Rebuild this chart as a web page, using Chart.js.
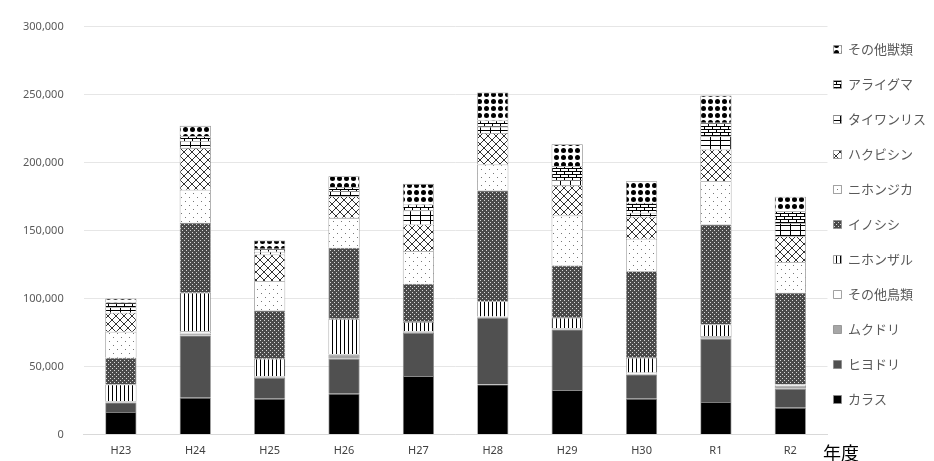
<!DOCTYPE html>
<html>
<head>
<meta charset="utf-8">
<script src="https://cdn.jsdelivr.net/npm/chart.js@4/dist/chart.umd.min.js"></script>
<style>
  body { margin: 0; background: #fff; }
  #wrap { position: relative; width: 934px; height: 461px; }
</style>
</head>
<body>
<div id="wrap"><canvas id="barChart" width="934" height="461"></canvas></div>
<script>
// data
const years = ['H23', 'H24', 'H25', 'H26', 'H27', 'H28', 'H29', 'H30', 'R1', 'R2'];
const karasu      = [16500, 27000, 26200, 29900, 42900, 36800, 32600, 26200, 23800, 19600];
const hiyodori    = [7000, 45800, 15500, 25800, 31900, 49000, 44600, 17900, 46600, 14000];
const mukudori    = [500, 1500, 500, 3000, 500, 500, 500, 500, 1000, 2200];
const sonotaChorui = [500, 1500, 500, 500, 500, 500, 500, 1000, 1000, 700];
const nihonzaru   = [12300, 28400, 13000, 25800, 7000, 11200, 7600, 10800, 8500, 300];
const inoshishi   = [19600, 51500, 35500, 52300, 28000, 81400, 38500, 63700, 73500, 67400];
const nihonjika   = [19100, 24300, 21500, 22000, 24000, 19100, 36700, 23800, 31900, 22500];
const hakubishin  = [14000, 30800, 19700, 15900, 19600, 23300, 22100, 16200, 23300, 19100];
const taiwanrisu  = [4000, 5000, 2000, 3800, 10300, 4500, 4000, 3000, 9700, 9800];
const araiguma    = [3500, 3500, 2100, 3000, 4400, 4600, 10200, 7300, 9900, 8600];
const sonotaJurui = [3000, 7700, 6100, 8000, 15200, 20600, 16200, 15900, 20100, 10600];

const yTicks = [0, 50000, 100000, 150000, 200000, 250000, 300000];

function makePattern(kind) {
    let c = document.createElement('canvas');
    let g = c.getContext('2d');
    let w = 8, h = 8;
    if (kind == 'vlines') { w = 4; h = 4; }
    if (kind == 'checker') { w = 4; h = 4; }
    if (kind == 'grid') { w = 10; h = 10; }
    if (kind == 'brick') { w = 8; h = 6; }
    if (kind == 'blob') { w = 7; h = 7; }
    c.width = w; c.height = h;
    g.fillStyle = '#fff';
    g.fillRect(0, 0, w, h);
    g.fillStyle = '#000';
    g.strokeStyle = '#000';
    g.lineWidth = 1;
    if (kind == 'vlines') {
        g.fillRect(0, 0, 1, h);
    } else if (kind == 'checker') {
        g.fillStyle = '#4a4a4a';
        g.fillRect(0, 0, w, h);
        g.fillStyle = '#d8d8d8';
        g.fillRect(0, 0, 1, 1);
        g.fillRect(2, 2, 1, 1);
    } else if (kind == 'dots') {
        g.fillStyle = '#777';
        g.fillRect(1, 1, 1, 1);
        g.fillRect(5, 5, 1, 1);
    } else if (kind == 'diamond') {
        g.strokeStyle = '#333';
        g.beginPath();
        g.moveTo(0, 0); g.lineTo(8, 8);
        g.moveTo(8, 0); g.lineTo(0, 8);
        g.stroke();
    } else if (kind == 'grid') {
        g.fillRect(0, 0, w, 1);
        g.fillRect(0, 5, w, 1);
        g.fillRect(0, 0, 1, h);
    } else if (kind == 'brick') {
        g.fillRect(0, 0, w, 1);
        g.fillRect(0, 3, w, 1);
        g.fillRect(0, 0, 1, 3);
        g.fillRect(4, 3, 1, 3);
    } else if (kind == 'blob') {
        g.beginPath();
        g.arc(3.5, 3.5, 2.5, 0, Math.PI * 2);
        g.fill();
    }
    return g.createPattern(c, 'repeat');
}

function ds(label, data, fill) {
    return {
        label: label,
        data: data,
        backgroundColor: fill,
        borderColor: '#8a8a8a',
        borderWidth: 0.8,
        barPercentage: 0.42,
        categoryPercentage: 1.0
    };
}

// draws the "年度" label at the bottom right
const nendoLabel = {
    id: 'nendoLabel',
    afterDraw(chart) {
        let ctx = chart.ctx;
        ctx.save();
        ctx.font = '18px "Noto Sans CJK JP"';
        ctx.fillStyle = '#000';
        ctx.textBaseline = 'top';
        ctx.fillText('年度', 823, 444);
        ctx.restore();
    }
};

// pull the legend a bit closer to the bars than its padding allows
const legendShift = {
    id: 'legendShift',
    afterLayout(chart) {
        chart.legend.left -= 16;
        chart.legend.top -= 4;
    }
};

Chart.defaults.font.family = '"Noto Sans", "Noto Sans CJK JP", sans-serif';

var barChart = new Chart(document.getElementById('barChart'), {
    type: 'bar',
    data: {
        labels: years,
        datasets: [
            ds('カラス', karasu, '#000000'),
            ds('ヒヨドリ', hiyodori, '#505050'),
            ds('ムクドリ', mukudori, '#a6a6a6'),
            ds('その他鳥類', sonotaChorui, '#ffffff'),
            ds('ニホンザル', nihonzaru, makePattern('vlines')),
            ds('イノシシ', inoshishi, makePattern('checker')),
            ds('ニホンジカ', nihonjika, makePattern('dots')),
            ds('ハクビシン', hakubishin, makePattern('diamond')),
            ds('タイワンリス', taiwanrisu, makePattern('grid')),
            ds('アライグマ', araiguma, makePattern('brick')),
            ds('その他獣類', sonotaJurui, makePattern('blob'))
        ]
    },
    options: {
        responsive: false,
        animation: false,
        layout: { padding: { left: 3, right: -18, top: 25, bottom: 0 } },
        plugins: {
            legend: {
                position: 'right',
                align: 'start',
                reverse: true,
                labels: {
                    boxWidth: 8,
                    boxHeight: 8,
                    padding: 22,
                    color: '#595959',
                    font: { size: 13, family: '"Noto Sans CJK JP"' }
                }
            },
            tooltip: { enabled: false }
        },
        scales: {
            x: {
                stacked: true,
                grid: { display: false },
                border: { color: '#d9d9d9' },
                ticks: { color: '#404040', font: { size: 11 }, padding: 2 }
            },
            y: {
                stacked: true,
                min: 0,
                max: 300000,
                afterBuildTicks: function(axis) {
                    axis.ticks = yTicks.map(v => ({ value: v }));
                },
                grid: { color: '#e6e6e6', drawTicks: false },
                border: { display: false },
                ticks: {
                    color: '#595959',
                    font: { size: 11 },
                    padding: 20,
                    callback: v => v.toLocaleString('en-US')
                }
            }
        }
    },
    plugins: [nendoLabel, legendShift]
});
</script>
</body>
</html>
